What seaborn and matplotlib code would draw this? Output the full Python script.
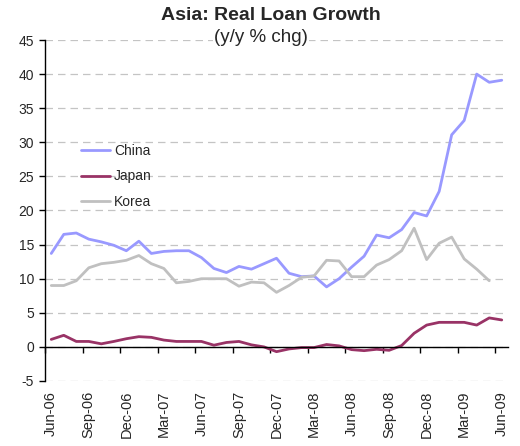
import numpy as np
import pandas as pd
import matplotlib
matplotlib.use("Agg")
import matplotlib.pyplot as plt
import seaborn as sns

# ---- data ----
months = ["Jun-06", "Jul-06", "Aug-06", "Sep-06", "Oct-06", "Nov-06", "Dec-06", "Jan-07", "Feb-07",
          "Mar-07", "Apr-07", "May-07", "Jun-07", "Jul-07", "Aug-07", "Sep-07", "Oct-07", "Nov-07",
          "Dec-07", "Jan-08", "Feb-08", "Mar-08", "Apr-08", "May-08", "Jun-08", "Jul-08", "Aug-08",
          "Sep-08", "Oct-08", "Nov-08", "Dec-08", "Jan-09", "Feb-09", "Mar-09", "Apr-09", "May-09",
          "Jun-09"]
china = [13.7, 16.5, 16.7, 15.8, 15.4, 14.9, 14.1, 15.5, 13.7, 14.0, 14.1, 14.1, 13.1, 11.5, 10.9,
         11.8, 11.4, 12.2, 13.0, 10.8, 10.3, 10.4, 8.8, 10.0, 11.7, 13.3, 16.4, 16.0, 17.2, 19.7,
         19.2, 22.8, 31.1, 33.2, 40.0, 38.8, 39.1]
japan = [1.1, 1.7, 0.8, 0.8, 0.45, 0.8, 1.2, 1.5, 1.4, 1.0, 0.8, 0.8, 0.8, 0.25, 0.65, 0.8, 0.3,
         0.0, -0.7, -0.3, -0.1, -0.1, 0.35, 0.15, -0.4, -0.55, -0.35, -0.5, 0.2, 2.0, 3.2, 3.6,
         3.6, 3.6, 3.2, 4.25, 3.95]
korea = [9.0, 9.0, 9.7, 11.6, 12.2, 12.4, 12.7, 13.4, 12.2, 11.5, 9.4, 9.6, 10.0, 10.0, 10.0, 8.9,
         9.5, 9.4, 8.0, 9.0, 10.2, 10.4, 12.7, 12.6, 10.3, 10.3, 12.0, 12.8, 14.1, 17.4, 12.8, 15.2,
         16.1, 12.9, 11.4, 9.7]
tick_labels = months[::3]
series_names = ["China", "Japan", "Korea"]
colors = ["#9999FF", "#993366", "#C0C0C0"]

rows = []
for name, vals in zip(series_names, [china, japan, korea]):
    for i, v in enumerate(vals):
        rows.append({"pos": i + 0.5, "value": v, "country": name})
df = pd.DataFrame(rows)

sns.set_style("white")
plt.rcParams["font.family"] = ["Liberation Sans", "DejaVu Sans"]
plt.rcParams["axes.unicode_minus"] = False

fig = plt.figure(figsize=(5.2, 4.46), dpi=100)
ax = fig.add_axes([45 / 520, 1 - 381 / 446, 463 / 520, 341 / 446])

sns.lineplot(data=df, x="pos", y="value", hue="country", palette=dict(zip(series_names, colors)),
             linewidth=2.0, ax=ax, legend=True)

ax.set_xlim(0, len(months))
ax.set_ylim(-5, 45)
ax.set_yticks(np.arange(-5, 46, 5))
ax.yaxis.grid(True, linestyle=(0, (6, 4)), color="#C4C4C4", linewidth=0.9)
ax.xaxis.grid(False)
ax.set_axisbelow(True)

for s in ["top", "right"]:
    ax.spines[s].set_visible(False)
ax.spines["left"].set_color("black")
ax.spines["left"].set_linewidth(1.0)
ax.spines["bottom"].set_position(("data", 0))
ax.spines["bottom"].set_color("black")
ax.spines["bottom"].set_linewidth(1.0)

ax.set_xticks(np.arange(0, len(months) + 1, 3))
ax.tick_params(axis="x", direction="out", length=4, width=1, color="black", labelbottom=False, bottom=True)
ax.tick_params(axis="y", direction="out", length=4, width=1, color="black", labelsize=10, pad=4, left=True)
ax.set_xlabel("")
ax.set_ylabel("")

sec = ax.secondary_xaxis("bottom")
sec.set_xticks(np.arange(0, len(months), 3) + 0.5, tick_labels)
sec.tick_params(length=0, labelrotation=90, labelsize=10.5, pad=7)
sec.spines["bottom"].set_visible(False)

ax.legend(loc="upper left", bbox_to_anchor=(0.078, 0.695), frameon=False, fontsize=10,
          handlelength=2.05, handletextpad=0.3, labelspacing=0.82, borderpad=0, borderaxespad=0)

fig.text(271 / 520, 1 - 16 / 446, "Asia: Real Loan Growth", ha="center", va="center",
         fontsize=14, fontweight="bold")
fig.text(261 / 520, 1 - 38 / 446, "(y/y % chg)", ha="center", va="center", fontsize=13.5,
         bbox=dict(facecolor="white", edgecolor="none", pad=0.5))

fig.savefig("out.png", dpi=100)
